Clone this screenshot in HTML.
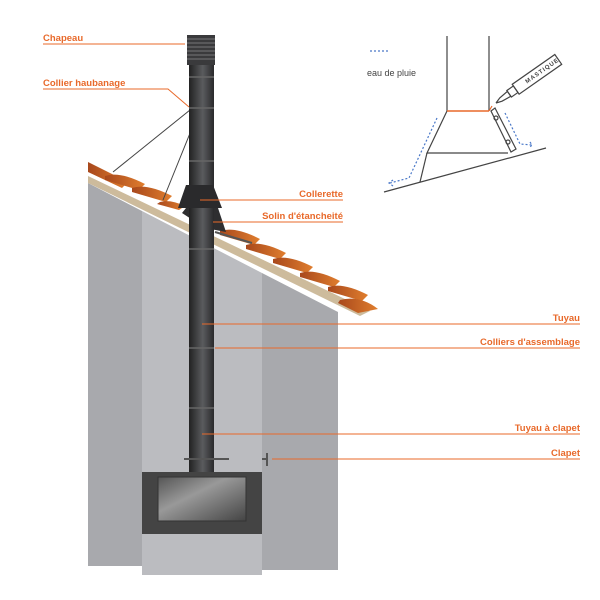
<!DOCTYPE html>
<html><head><meta charset="utf-8"><style>
html,body{margin:0;padding:0;background:#fff;width:600px;height:600px;overflow:hidden}
svg{display:block}
.l{font-family:"Liberation Sans",sans-serif;font-weight:bold;font-size:9.5px;fill:#e8692a}
</style></head><body>
<svg width="600" height="600" viewBox="0 0 600 600" xmlns="http://www.w3.org/2000/svg">
<defs>
<linearGradient id="pipe" x1="0" x2="1">
<stop offset="0" stop-color="#222"/><stop offset="0.55" stop-color="#5a5b5e"/><stop offset="1" stop-color="#2a2a2c"/>
</linearGradient>
<linearGradient id="tile" x1="0" x2="1">
<stop offset="0" stop-color="#a8481c"/><stop offset="1" stop-color="#e07e2e"/>
</linearGradient>
<linearGradient id="win" x1="0" x2="1" y1="0" y2="1">
<stop offset="0" stop-color="#555"/><stop offset="0.4" stop-color="#999"/><stop offset="1" stop-color="#444"/>
</linearGradient>
</defs>
<!-- walls -->
<polygon points="88,183 142,211 142,566 88,566" fill="#a8a9ad"/>
<polygon points="142,211 262,273 262,575 142,575" fill="#bbbcc0"/>
<polygon points="262,273 338,312 338,570 262,570" fill="#a8a9ad"/>
<!-- roof strip -->
<polygon points="88,176 370,311 360,316 88,183" fill="#cdbb9c"/>
<!-- tiles -->
<g fill="url(#tile)">
<path d="M88,162 l40,20 l-6,6 l-34,-16z"/>
<path d="M105,176 q15,-5 40,8 l-6,6 l-34,-10z"/>
<path d="M132,188 q15,-5 40,8 l-6,6 l-34,-10z"/>
<path d="M160,202 q10,-3 25,4 l-6,4 l-22,-6z"/>
<path d="M220,231 q15,-5 40,8 l-6,6 l-34,-10z"/>
<path d="M246,245 q15,-5 40,8 l-6,6 l-34,-10z"/>
<path d="M273,259 q15,-5 40,8 l-6,6 l-34,-10z"/>
<path d="M300,273 q15,-5 40,8 l-6,6 l-34,-10z"/>
<path d="M328,287 q15,-5 40,8 l-6,6 l-34,-10z"/>
<path d="M340,300 q20,-5 38,9 l-20,4 l-20,-10z"/>
</g>
<!-- stays -->
<line x1="190" y1="110" x2="113" y2="172" stroke="#444" stroke-width="1"/>
<line x1="199" y1="111" x2="163" y2="200" stroke="#444" stroke-width="1"/>
<!-- solin -->
<polygon points="186,208 218,208 226,232 205,228 182,213" fill="#2e2e30"/>
<line x1="215" y1="232" x2="252" y2="243" stroke="#555" stroke-width="2"/>
<!-- pipe -->
<rect x="189" y="60" width="25" height="412" fill="url(#pipe)"/>
<!-- collerette -->
<polygon points="186,185 213,185 222,208 178,208" fill="#2a2a2c"/>
<g stroke="#666" stroke-width="1.5">
<line x1="189" y1="77" x2="214" y2="77"/><line x1="189" y1="108" x2="214" y2="108"/>
<line x1="189" y1="161" x2="214" y2="161"/><line x1="189" y1="249" x2="214" y2="249"/>
<line x1="189" y1="348" x2="214" y2="348"/><line x1="189" y1="408" x2="214" y2="408"/>
</g>
<!-- cap -->
<rect x="187" y="35" width="28" height="30" fill="#3a3a3c"/>
<g stroke="#777" stroke-width="1"><line x1="187" y1="39" x2="215" y2="39"/><line x1="187" y1="43" x2="215" y2="43"/><line x1="187" y1="47" x2="215" y2="47"/><line x1="187" y1="51" x2="215" y2="51"/><line x1="187" y1="55" x2="215" y2="55"/><line x1="187" y1="59" x2="215" y2="59"/></g>
<!-- clapet -->
<line x1="184" y1="459" x2="229" y2="459" stroke="#555" stroke-width="2"/>
<line x1="262" y1="459" x2="268" y2="459" stroke="#555" stroke-width="2"/>
<line x1="267" y1="453" x2="267" y2="466" stroke="#555" stroke-width="2"/>
<!-- stove -->
<rect x="142" y="472" width="120" height="62" fill="#444"/>
<rect x="158" y="477" width="88" height="44" fill="url(#win)" stroke="#333"/>
<!-- labels -->
<g stroke="#e8692a" stroke-width="1" fill="none">
<polyline points="43,44 185,44"/>
<polyline points="43,89 168,89 189,107"/>
<polyline points="200,200 343,200"/>
<polyline points="213,222 343,222"/>
<polyline points="202,324 580,324"/>
<polyline points="215,348 580,348"/>
<polyline points="202,434 580,434"/>
<polyline points="272,459 580,459"/>
</g>
<text class="l" x="43" y="41">Chapeau</text>
<text class="l" x="43" y="86">Collier haubanage</text>
<text class="l" x="343" y="197" text-anchor="end">Collerette</text>
<text class="l" x="343" y="219" text-anchor="end">Solin d'étancheité</text>
<text class="l" x="580" y="321" text-anchor="end">Tuyau</text>
<text class="l" x="580" y="345" text-anchor="end">Colliers d'assemblage</text>
<text class="l" x="580" y="431" text-anchor="end">Tuyau à clapet</text>
<text class="l" x="580" y="456" text-anchor="end">Clapet</text>
<!-- inset -->
<g stroke="#444" stroke-width="1.2" fill="none">
<line x1="447" y1="36" x2="447" y2="111"/><line x1="489" y1="36" x2="489" y2="111"/>
<polyline points="447,111 427,153 508,153"/>
<line x1="427" y1="153" x2="420" y2="182"/>
<line x1="384" y1="192" x2="546" y2="148"/>
<polygon points="491,111 495,108 516,149 511,152"/>
<circle cx="496" cy="118" r="2"/><circle cx="508" cy="142" r="2"/>
<g transform="translate(496,103) rotate(-35)">
<polyline points="0,0 6,-2 16,-3 16,3 6,2 0,0"/>
<rect x="16" y="-4" width="8" height="8"/>
<rect x="24" y="-6" width="52" height="12"/>
</g>
</g>
<text x="524" y="82" transform="rotate(-35 528 78)" font-family="Liberation Sans,sans-serif" font-size="6" font-weight="bold" fill="#444" letter-spacing="1">MASTIQUE</text>
<line x1="447" y1="111" x2="489" y2="111" stroke="#e8692a" stroke-width="1.5"/>
<line x1="489" y1="111" x2="492" y2="106" stroke="#e8692a" stroke-width="1.2"/>
<g stroke="#4a78c8" stroke-width="1.2" stroke-dasharray="2,2" fill="none">
<line x1="370" y1="51" x2="388" y2="51"/>
<polyline points="437,118 409,178 390,183"/>
<polyline points="505,113 520,144 532,145"/>
<polyline points="393,180 389,183 393,186"/>
<polyline points="530,142 532,145 529,148"/>
</g>
<text x="367" y="76" font-family="Liberation Sans,sans-serif" font-size="9" fill="#444">eau de pluie</text>
</svg>
</body></html>
